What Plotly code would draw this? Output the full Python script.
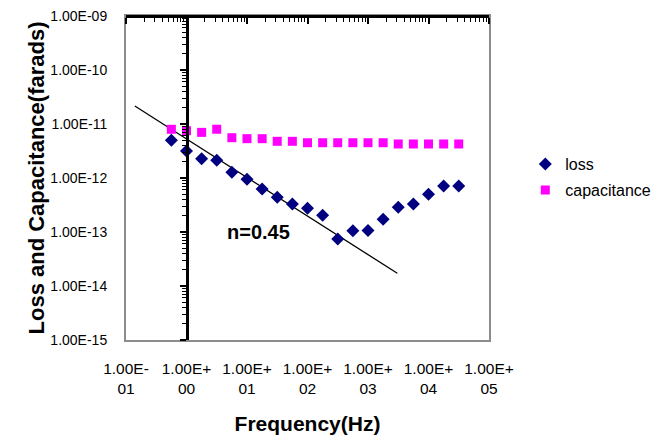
import plotly.graph_objects as go

# Frequencies (Hz), quarter-decade spacing
freq = [0.562, 1.0, 1.78, 3.16, 5.62, 10, 17.8, 31.6, 56.2, 100, 178, 316, 562,
        1000, 1780, 3160, 5620, 10000, 17800, 31600]
loss = [4.99e-12, 3.16e-12, 2.28e-12, 2.13e-12, 1.28e-12, 9.46e-13, 6.25e-13,
        4.39e-13, 3.30e-13, 2.75e-13, 2.04e-13, 7.41e-14, 1.06e-13, 1.07e-13,
        1.72e-13, 2.86e-13, 3.30e-13, 4.99e-13, 7.11e-13, 7.11e-13]
capacitance = [7.98e-12, 7.5e-12, 7.0e-12, 8.0e-12, 5.57e-12, 5.35e-12, 5.35e-12,
               4.78e-12, 4.78e-12, 4.5e-12, 4.5e-12, 4.5e-12, 4.5e-12, 4.5e-12,
               4.5e-12, 4.27e-12, 4.27e-12, 4.27e-12, 4.27e-12, 4.27e-12]
fit_x = [0.14, 3050]
fit_y = [2.15e-11, 1.72e-14]

x_ticks = [0.1, 1, 10, 100, 1000, 10000, 100000]
x_ticktext = ["1.00E-<br>01", "1.00E+<br>00", "1.00E+<br>01", "1.00E+<br>02",
              "1.00E+<br>03", "1.00E+<br>04", "1.00E+<br>05"]
y_ticks = [1e-15, 1e-14, 1e-13, 1e-12, 1e-11, 1e-10, 1e-9]
y_ticktext = ["1.00E-15", "1.00E-14", "1.00E-13", "1.00E-12", "1.00E-11",
              "1.00E-10", "1.00E-09"]

FONT = "Liberation Sans, Arial, sans-serif"
GREY = "#8c8c8c"

fig = go.Figure()
fig.add_trace(go.Scatter(x=fit_x, y=fit_y, mode="lines",
                         line=dict(color="black", width=1.3),
                         showlegend=False, hoverinfo="skip"))
fig.add_trace(go.Scatter(x=freq, y=loss, mode="markers", name="loss",
                         legendgroup="a",
                         marker=dict(symbol="diamond", size=10, color="#000080")))
fig.add_trace(go.Scatter(x=freq, y=capacitance, mode="markers", name="capacitance",
                         legendgroup="b",
                         marker=dict(symbol="square", size=9, color="#ff00ff")))
# dummy trace to instantiate the crossing axes
fig.add_trace(go.Scatter(x=[None], y=[None], xaxis="x2", yaxis="y2",
                         showlegend=False, hoverinfo="skip"))

fig.add_annotation(x=1.195, y=-13.0, xref="x", yref="y", text="<b>n=0.45</b>",
                   showarrow=False, font=dict(size=20, color="black", family=FONT),
                   xanchor="center", yanchor="middle")

fig.update_layout(
    width=668, height=435,
    margin=dict(l=126, r=174, t=16, b=95),
    paper_bgcolor="white", plot_bgcolor="white",
    font=dict(family=FONT, color="black"),
    xaxis=dict(type="log", range=[-1, 5], tickvals=x_ticks, ticktext=x_ticktext,
               ticks="", showgrid=False, zeroline=False, automargin=False,
               showline=True, linecolor=GREY, linewidth=2, mirror=True,
               tickfont=dict(size=15.5), ticklabelstandoff=13,
               title=dict(text="<b>Frequency(Hz)</b>", font=dict(size=21),
                          standoff=26)),
    yaxis=dict(type="log", range=[-15, -9], tickvals=y_ticks, ticktext=y_ticktext,
               ticks="", showgrid=False, zeroline=False, automargin=False,
               showline=True, linecolor=GREY, linewidth=2, mirror=True,
               tickfont=dict(size=14), ticklabelstandoff=14,
               title=dict(text="<b>Loss and Capacitance(farads)</b>",
                          font=dict(size=22), standoff=0)),
    xaxis2=dict(type="log", range=[-1, 5], overlaying="x", anchor="free",
                position=1, side="bottom", showticklabels=False,
                showgrid=False, zeroline=False, showline=True,
                linecolor="black", linewidth=2.5, ticks="outside", ticklen=6,
                tickwidth=1.5, tickcolor="black", dtick=1,
                minor=dict(ticks="outside", ticklen=4, tickwidth=1,
                           tickcolor="black", showgrid=False)),
    yaxis2=dict(type="log", range=[-15, -9], overlaying="y", anchor="free",
                position=1/6, side="left", showticklabels=False,
                showgrid=False, zeroline=False, showline=True,
                linecolor="black", linewidth=2.5, ticks="outside", ticklen=6,
                tickwidth=1.5, tickcolor="black", dtick=1,
                minor=dict(ticks="outside", ticklen=4, tickwidth=1,
                           tickcolor="black", showgrid=False)),
    legend=dict(x=1.10, y=0.595, xanchor="left", yanchor="top",
                font=dict(size=16), tracegroupgap=2, bgcolor="rgba(0,0,0,0)"),
)

fig.write_html("out.html")
